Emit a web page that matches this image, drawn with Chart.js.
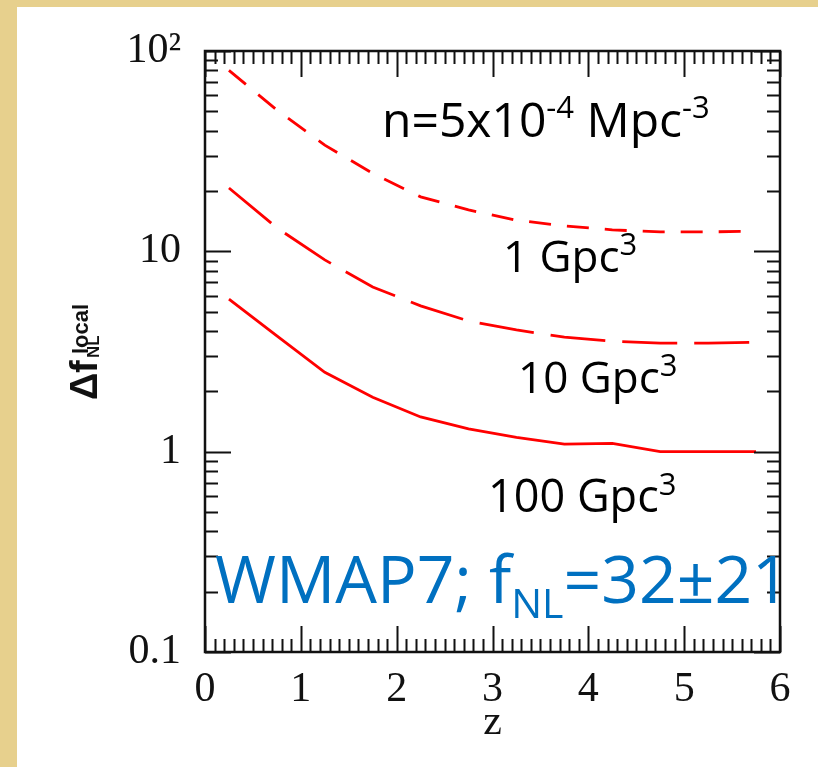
<!DOCTYPE html>
<html>
<head>
<meta charset="utf-8">
<script src="https://cdn.jsdelivr.net/npm/chart.js@4.4.0/dist/chart.umd.min.js"></script>
<style>
	html, body { margin: 0; padding: 0; background: #fff; }
	canvas { display: block; }
</style>
</head>
<body>
<canvas id="chart" width="818" height="767"></canvas>
<script>

// values
const redshifts = [ 0.25, 0.75, 1.25, 1.75, 2.25, 2.75, 3.25, 3.75, 4.25, 4.75, 5.25, 5.75 ];
const dfnl1Gpc = [ 80, 50.7, 33.9, 24.5, 18.7, 16.1, 14.3, 13.4, 12.8, 12.5, 12.5, 12.6 ];
const dfnl10Gpc = [ 20.7, 13.1, 9.06, 6.64, 5.34, 4.49, 4.05, 3.73, 3.56, 3.48, 3.48, 3.52 ];
const dfnl100Gpc = [ 5.78, 3.78, 2.49, 1.87, 1.49, 1.30, 1.18, 1.09, 1.10, 1.0, 1.0, 1.0 ];

const xTicks = [ 0, 1, 2, 3, 4, 5, 6 ];
const yTicks = [ 0.1, 1, 10, 100 ];
const yTickLabels = [ '0.1', '1', '10', '10²' ];

const SERIF = '"Liberation Serif", "DejaVu Serif", serif';
const SANS = '"Open Sans", sans-serif';
const BOLD_SANS = 'bold {s}px "Liberation Sans", sans-serif';
const BLUE = '#0070c0';

function points ( ys ) {

	return redshifts.map( ( z, i ) => ( { x: z, y: ys[ i ] } ) );

}

function drawRich ( ctx, x, y, parts, colour ) {

	ctx.fillStyle = colour;
	ctx.textBaseline = 'alphabetic';
	ctx.textAlign = 'left';

	for ( const p of parts ) {

		ctx.font = p.size + 'px ' + SANS;
		ctx.fillText( p.t, x, y + ( p.dy || 0 ) );
		x += ctx.measureText( p.t ).width;

	}

}

const background = {
	id: 'background',
	beforeDraw ( chart ) {

		const ctx = chart.ctx;
		ctx.save();
		ctx.fillStyle = '#e7d08d';
		ctx.fillRect( 0, 0, chart.width, chart.height );
		ctx.fillStyle = '#ffffff';
		ctx.fillRect( 17, 7, chart.width - 17, chart.height - 7 );
		ctx.restore();

	}
};

const frame = {
	id: 'frame',
	afterDraw ( chart ) {

		const ctx = chart.ctx;
		const { left, right, top, bottom } = chart.chartArea;
		const xs = chart.scales.x;
		const ys = chart.scales.y;

		ctx.save();
		ctx.strokeStyle = '#111';
		ctx.lineWidth = 2;
		ctx.beginPath();

		for ( let i = 0; i <= 60; i ++ ) {

			const len = i % 10 === 0 ? 26 : 13;
			const px = Math.round( xs.getPixelForValue( i / 10 ) ) + 0.5;
			ctx.moveTo( px, bottom );
			ctx.lineTo( px, bottom - len );
			ctx.moveTo( px, top );
			ctx.lineTo( px, top + len );

		}

		for ( const d of [ 0.1, 1, 10 ] ) {

			for ( let m = 1; m <= 10; m ++ ) {

				const len = m === 1 || m === 10 ? 26 : 13;
				const py = Math.round( ys.getPixelForValue( d * m ) ) + 0.5;
				ctx.moveTo( left, py );
				ctx.lineTo( left + len, py );
				ctx.moveTo( right, py );
				ctx.lineTo( right - len, py );

			}

		}

		ctx.stroke();

		ctx.lineWidth = 2.5;
		ctx.strokeRect( left, top, right - left, bottom - top );

		// axis titles
		ctx.fillStyle = '#111';
		ctx.font = '42px ' + SERIF;
		ctx.textAlign = 'center';
		ctx.textBaseline = 'alphabetic';
		ctx.fillText( 'z', ( left + right ) / 2, 734 );

		ctx.translate( 97, 400 );
		ctx.rotate( - Math.PI / 2 );
		ctx.textAlign = 'left';
		ctx.font = BOLD_SANS.replace( '{s}', 38 );
		ctx.fillText( 'Δ', 0, 0 );
		ctx.fillText( 'f', 27, 0 );
		ctx.font = BOLD_SANS.replace( '{s}', 22 );
		ctx.fillText( 'local', 46, - 9 );
		ctx.font = BOLD_SANS.replace( '{s}', 17 );
		ctx.fillText( 'NL', 42, 2 );

		ctx.restore();

		// curve labels
		ctx.save();
		drawRich( ctx, 382, 137, [
			{ t: 'n=5x10', size: 48 },
			{ t: '-4', size: 31, dy: - 19 },
			{ t: ' Mpc', size: 48 },
			{ t: '-3', size: 31, dy: - 19 }
		], '#000' );
		drawRich( ctx, 503, 272, [
			{ t: '1 Gpc', size: 44 },
			{ t: '3', size: 31, dy: - 17 }
		], '#000' );
		drawRich( ctx, 518, 393, [
			{ t: '10 Gpc', size: 44 },
			{ t: '3', size: 31, dy: - 17 }
		], '#000' );
		drawRich( ctx, 488, 512, [
			{ t: '100 Gpc', size: 45 },
			{ t: '3', size: 31, dy: - 17 }
		], '#000' );
		drawRich( ctx, 215, 603, [
			{ t: 'WMAP7; f', size: 66 },
			{ t: 'NL', size: 41, dy: 15 },
			{ t: '=32±21', size: 66 }
		], BLUE );
		ctx.restore();

	}
};

const lineStyle = {
	borderColor: '#ff0000',
	borderWidth: 2.8,
	pointRadius: 0,
	tension: 0,
	fill: false
};

new Chart( document.getElementById( 'chart' ), {
	type: 'line',
	data: {
		datasets: [
			{ ...lineStyle, label: '1 Gpc³', data: points( dfnl1Gpc ), borderDash: [ 22, 16 ] },
			{ ...lineStyle, label: '10 Gpc³', data: points( dfnl10Gpc ), borderDash: [ 55, 17 ] },
			{ ...lineStyle, label: '100 Gpc³', data: points( dfnl100Gpc ) }
		]
	},
	options: {
		responsive: false,
		animation: false,
		devicePixelRatio: 1,
		layout: {
			padding: { left: 0, top: 51, right: 38, bottom: 0 }
		},
		plugins: {
			legend: { display: false },
			tooltip: { enabled: false }
		},
		scales: {
			x: {
				type: 'linear',
				min: 0,
				max: 6,
				grid: { display: false, drawTicks: false },
				border: { display: false },
				afterBuildTicks ( scale ) {

					scale.ticks = xTicks.map( v => ( { value: v } ) );

				},
				afterFit ( scale ) {

					scale.height = 115;

				},
				ticks: {
					padding: 13,
					color: '#111',
					font: { family: SERIF, size: 42 },
					callback: v => String( v )
				}
			},
			y: {
				type: 'logarithmic',
				min: 0.1,
				max: 100,
				grid: { display: false, drawTicks: false },
				border: { display: false },
				afterBuildTicks ( scale ) {

					scale.ticks = yTicks.map( v => ( { value: v } ) );

				},
				afterFit ( scale ) {

					scale.width = 205;

				},
				ticks: {
					padding: 24,
					color: '#111',
					font: { family: SERIF, size: 42 },
					callback: ( v ) => yTickLabels[ yTicks.indexOf( v ) ] ?? ''
				}
			}
		}
	},
	plugins: [ background, frame ]
} );

</script>
</body>
</html>
